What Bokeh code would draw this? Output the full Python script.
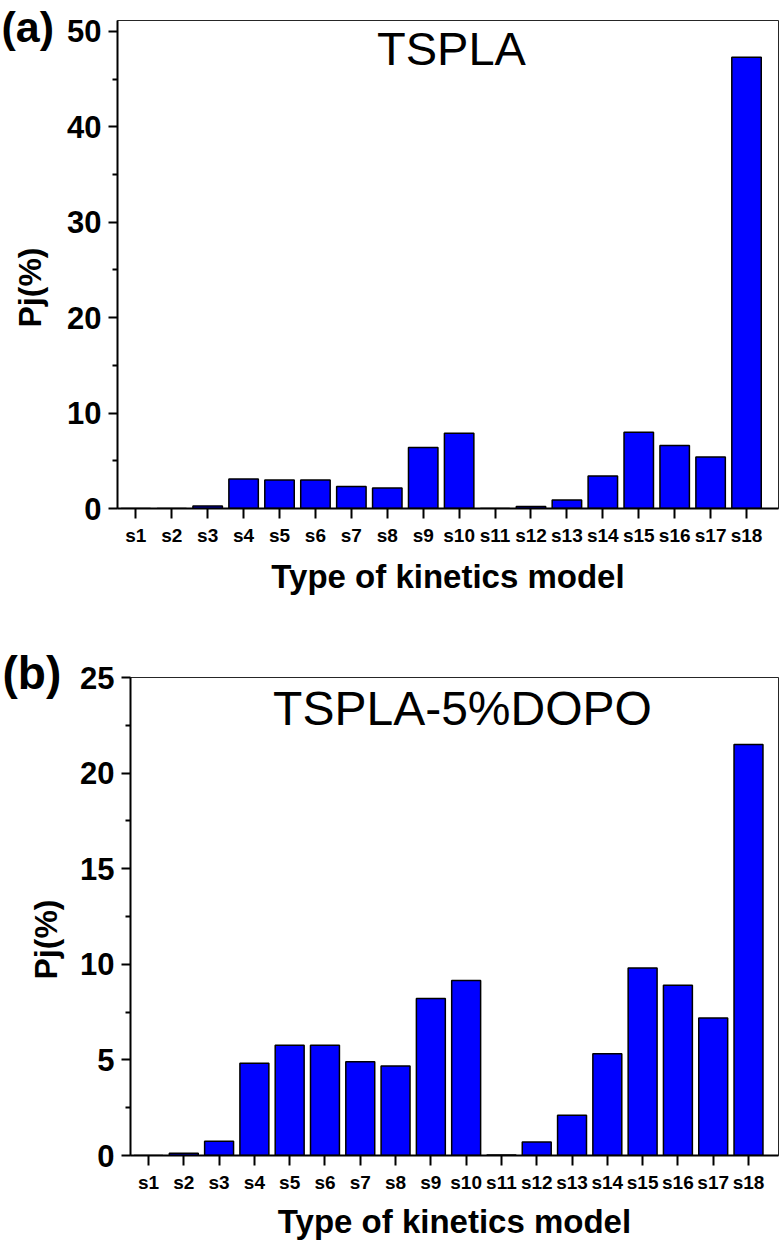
import math
from bokeh.plotting import figure
from bokeh.models import Label, FixedTicker, Range1d, ColumnDataSource
from bokeh.layouts import column, row
from bokeh.embed import file_html
from bokeh.resources import INLINE

categories = ["s1", "s2", "s3", "s4", "s5", "s6", "s7", "s8", "s9",
              "s10", "s11", "s12", "s13", "s14", "s15", "s16", "s17", "s18"]
pj_tspla = [0.0, 0.0, 0.25, 3.1, 3.0, 3.0, 2.3, 2.15, 6.4,
            7.9, 0.0, 0.2, 0.9, 3.4, 8.0, 6.6, 5.4, 47.3]
pj_tspla_dopo = [0.0, 0.12, 0.75, 4.83, 5.76, 5.76, 4.9, 4.68, 8.21,
                 9.15, 0.03, 0.71, 2.1, 5.32, 9.81, 8.91, 7.19, 21.5]
yticks_a = [0, 10, 20, 30, 40, 50]
yticks_b = [0, 5, 10, 15, 20, 25]
FONT = "Liberation Sans"


def side(width, height, tag, tag_x, tag_y, tag_size, ylab_x, ylab_y):
    s = figure(width=width, height=height, x_range=Range1d(0, width),
               y_range=Range1d(0, height), output_backend="svg", toolbar_location=None,
               x_axis_location=None, y_axis_location=None, min_border=0,
               frame_align=False)
    s.outline_line_color = None
    s.xgrid.visible = False
    s.ygrid.visible = False
    s.add_layout(Label(x=tag_x, y=tag_y, text=tag, text_align="left", text_baseline="middle",
                       text_font=FONT, text_font_size=tag_size, text_font_style="bold",
                       text_color="black"))
    s.add_layout(Label(x=ylab_x, y=ylab_y, text="Pj(%)", angle=math.pi / 2,
                       text_align="center", text_baseline="middle", text_font=FONT,
                       text_font_size="32px", text_font_style="bold", text_color="black"))
    return s


def panel(values, ymax, yticks, x_end, title, width, height, b_top, b_bottom,
          title_pos, title_size, tick_standoff, label_standoff):
    xs = list(range(1, len(categories) + 1))
    src = ColumnDataSource(dict(x=xs, top=values))
    p = figure(width=width, height=height, x_range=Range1d(0.49, x_end),
               y_range=Range1d(0, ymax), output_backend="svg", toolbar_location=None,
               min_border_left=51, min_border_right=4, min_border_top=b_top,
               min_border_bottom=b_bottom, frame_align=False)
    p.vbar(x="x", top="top", width=0.82, source=src, fill_color="#0000FF",
           line_color="black", line_width=1.5)
    p.xgrid.visible = False
    p.ygrid.visible = False
    p.outline_line_color = "black"
    p.outline_line_width = 1
    p.outline_line_alpha = 0.85

    xa = p.xaxis[0]
    xa.ticker = FixedTicker(ticks=xs)
    xa.major_label_overrides = {x: c for x, c in zip(xs, categories)}
    xa.major_label_text_font = FONT
    xa.major_label_text_font_size = "19px"
    xa.major_label_text_font_style = "bold"
    xa.major_label_text_color = "black"
    xa.major_label_standoff = tick_standoff
    xa.axis_line_width = 2
    xa.axis_line_color = "black"
    xa.major_tick_line_width = 2
    xa.major_tick_out = 10
    xa.major_tick_in = 0
    xa.minor_tick_out = 0
    xa.minor_tick_in = 0
    xa.axis_label = "Type of kinetics model"
    xa.axis_label_text_font = FONT
    xa.axis_label_text_font_size = "33px"
    xa.axis_label_text_font_style = "bold"
    xa.axis_label_text_color = "black"
    xa.axis_label_standoff = label_standoff

    step = yticks[1] - yticks[0]
    ya = p.yaxis[0]
    ya.ticker = FixedTicker(ticks=yticks,
                            minor_ticks=[t + step / 2 for t in yticks])
    ya.major_label_text_font = FONT
    ya.major_label_text_font_size = "31px"
    ya.major_label_text_font_style = "bold"
    ya.major_label_text_color = "black"
    ya.major_label_standoff = 7
    ya.axis_line_width = 2
    ya.axis_line_color = "black"
    ya.major_tick_line_width = 2
    ya.minor_tick_line_width = 2
    ya.major_tick_out = 9
    ya.major_tick_in = 0
    ya.minor_tick_out = 5
    ya.minor_tick_in = 0

    p.add_layout(Label(x=title_pos[0], y=title_pos[1], x_units="screen", y_units="screen",
                       text=title, text_align="center", text_baseline="middle",
                       text_font=FONT, text_font_size=title_size, text_color="black"))
    return p


# panel (a): page rows 0..600
sa = side(64, 600, "(a)", 1, 574, "43px", 29, 313)
pa = panel(pj_tspla, 51.15, yticks_a, 18.89, "TSPLA", 718, 600, 20, 92,
           (334, 460), "47px", 6, 9)
# panel (b): page rows 600..1242
sb = side(77, 642, "(b)", 2, 570, "46px", 45, 303)
pb = panel(pj_tspla_dopo, 25, yticks_b, 18.85, "TSPLA-5%DOPO", 705, 642, 77, 86,
           (332, 447), "48px", 6, 7)

layout = column(row(sa, pa), row(sb, pb))
open("out.html", "w").write(file_html(layout, INLINE))
